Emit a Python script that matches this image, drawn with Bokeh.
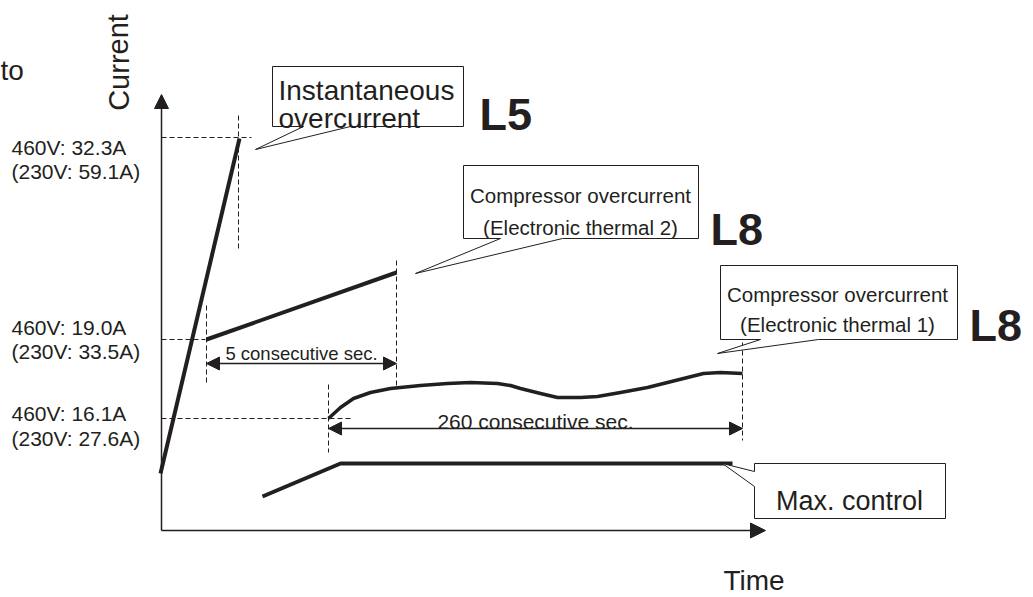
from bokeh.plotting import figure
from bokeh.models import Range1d, Arrow, NormalHead
from bokeh.core.properties import value
from bokeh.embed import file_html
from bokeh.resources import INLINE

INK = "#231f20"
FONT = "Liberation Sans"

# ---- diagram data (drawing coordinates: x = time, y = current level measured downward) ----
origin_x, origin_y = 161, 530
y_axis_top = 94
x_axis_end = 765

# instantaneous over-current ramp (L5)
ramp_x = [160, 239]
ramp_y = [473, 138]

# electronic thermal 2 ramp
th2_x = [206, 396]
th2_y = [339, 272]

# electronic thermal 1 wavy current
th1_x = [328, 340, 353, 370, 390, 420, 447, 470, 497, 510, 520, 540, 557, 580, 597, 620, 647, 675, 703, 720, 742]
th1_y = [418, 407, 398, 392, 388, 385, 383, 382, 383, 385, 388, 393, 397, 397, 396, 392, 387, 380, 373, 372, 373]

# max control current
mc_x = [262, 340, 732]
mc_y = [496, 463, 463]

# current threshold levels
level_y = [137, 339, 418]
level_x_end = [251, 205, 352]
level_line1 = ["460V: 32.3A", "460V: 19.0A", "460V: 16.1A"]
level_line2 = ["(230V: 59.1A)", "(230V: 33.5A)", "(230V: 27.6A)"]
level_base1 = [147, 327, 413]
level_base2 = [171, 351, 438]

# time markers (vertical dashed)
mark_x = [238, 206, 396, 328, 742]
mark_top = [115, 305, 260, 384, 342]
mark_bot = [250, 384, 385, 452, 440]

# duration dimension arrows
dur_labels = ["5 consecutive sec.", "260 consecutive sec."]
dur_x0 = [206, 328]
dur_x1 = [396, 742]
dur_y = [363, 428]
dur_text_y = [353, 421]
dur_size = ["18.5px", "21px"]

p = figure(width=1033, height=597, x_range=Range1d(0, 1033), y_range=Range1d(597, 0),
           output_backend="svg", toolbar_location=None, min_border=0,
           x_axis_type=None, y_axis_type=None)
p.grid.visible = False
p.outline_line_color = None
p.background_fill_color = "white"
p.border_fill_color = "white"

# axes with arrow heads
p.add_layout(Arrow(end=NormalHead(size=14, fill_color=INK, line_color=INK, line_width=1),
                   x_start=origin_x, y_start=origin_y, x_end=origin_x, y_end=y_axis_top,
                   line_color=INK, line_width=1.5))
p.add_layout(Arrow(end=NormalHead(size=15, fill_color=INK, line_color=INK, line_width=1),
                   x_start=origin_x, y_start=origin_y, x_end=x_axis_end, y_end=origin_y,
                   line_color=INK, line_width=1.5))

# dashed level lines
for ly, lx in zip(level_y, level_x_end):
    p.line([origin_x, lx], [ly, ly], line_color=INK, line_width=1, line_dash="5 3")
for mx, mt, mb in zip(mark_x, mark_top, mark_bot):
    p.line([mx, mx], [mt, mb], line_color=INK, line_width=1, line_dash="5 3")

# current curves
p.line(ramp_x, ramp_y, line_color=INK, line_width=4)
p.line(th2_x, th2_y, line_color=INK, line_width=4)
p.line(th1_x, th1_y, line_color=INK, line_width=3.5, line_join="round")
p.line(mc_x, mc_y, line_color=INK, line_width=4)

# duration arrows
for x0, x1, y in zip(dur_x0, dur_x1, dur_y):
    p.add_layout(Arrow(start=NormalHead(size=13, fill_color=INK, line_color=INK, line_width=1),
                       end=NormalHead(size=13, fill_color=INK, line_color=INK, line_width=1),
                       x_start=x0, y_start=y, x_end=x1, y_end=y, line_color=INK, line_width=1.5))
for t, x0, x1, ty, fs in zip(dur_labels, dur_x0, dur_x1, dur_text_y, dur_size):
    p.text(x=[(x0 + x1) / 2], y=[ty], text=[t], text_font=value(FONT), text_font_size=value(fs),
           text_color=INK, text_align="center", text_baseline="alphabetic")

# level labels
p.text(x=[11] * 3, y=level_base1, text=level_line1, text_font=value(FONT), text_font_size=value("21px"),
       text_color=INK, text_baseline="alphabetic")
p.text(x=[11] * 3, y=level_base2, text=level_line2, text_font=value(FONT), text_font_size=value("21px"),
       text_color=INK, text_baseline="alphabetic")

# callout bubbles: box (left, right, top, bottom) plus pointer
def bubble_bottom(l, r, t, b, px1, px2, tipx, tipy):
    xs = [l, r, r, px2, tipx, px1, l]
    ys = [t, t, b, b, tipy, b, b]
    p.patch(xs, ys, fill_color="white", line_color=INK, line_width=1)

bubble_bottom(272, 463, 66, 126, 303, 350, 255, 149)
bubble_bottom(463, 698, 165, 238, 500, 562, 415, 273)
bubble_bottom(720, 957, 265, 339, 760, 818, 717, 353)
p.patch([754, 945, 945, 754, 754, 722, 754], [463, 463, 518, 518, 486, 463, 471],
        fill_color="white", line_color=INK, line_width=1)

# callout texts
p.text(x=[278, 278], y=[90, 118], text=["Instantaneous", "overcurrent"], text_font=value(FONT),
       text_font_size=value("28px"), text_color=INK, text_baseline="alphabetic")
p.text(x=[580, 580], y=[195, 227], text=["Compressor overcurrent", "(Electronic thermal 2)"],
       text_font=value(FONT), text_font_size=value("20.5px"), text_color=INK,
       text_align="center", text_baseline="alphabetic")
p.text(x=[837, 837], y=[294, 324], text=["Compressor overcurrent", "(Electronic thermal 1)"],
       text_font=value(FONT), text_font_size=value("20.5px"), text_color=INK,
       text_align="center", text_baseline="alphabetic")
p.text(x=[849], y=[500], text=["Max. control"], text_font=value(FONT), text_font_size=value("27px"),
       text_color=INK, text_align="center", text_baseline="alphabetic")

# error codes
p.text(x=[479, 710, 969], y=[114, 229, 325], text=["L5", "L8", "L8"], text_font=value(FONT),
       text_font_size=value("45px"), text_font_style="bold", text_color=INK, text_baseline="alphabetic")

# axis titles
p.text(x=[118], y=[62], text=["Current"], angle=1.5708, text_font=value(FONT), text_font_size=value("29px"),
       text_color=INK, text_align="center", text_baseline="middle")
p.text(x=[723], y=[580], text=["Time"], text_font=value(FONT), text_font_size=value("28px"),
       text_color=INK, text_baseline="alphabetic")
p.text(x=[0], y=[70], text=["to"], text_font=value(FONT), text_font_size=value("28px"),
       text_color=INK, text_baseline="alphabetic")

open("out.html", "w").write(file_html(p, INLINE))
